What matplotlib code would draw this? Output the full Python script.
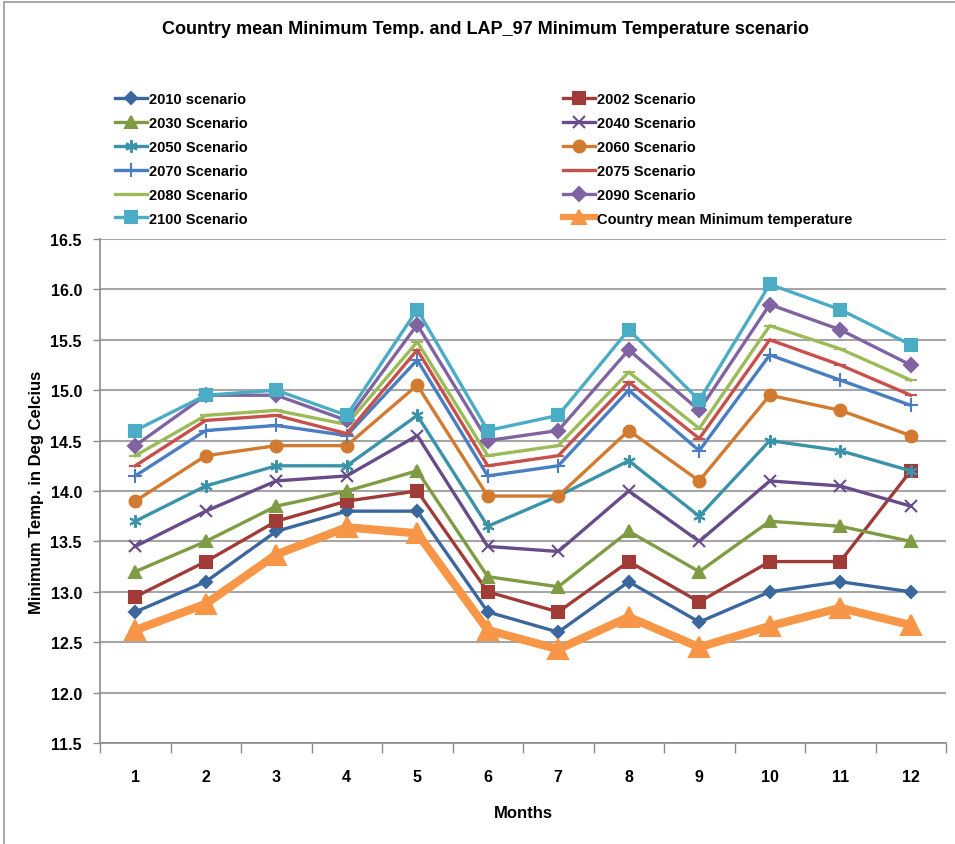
import matplotlib
matplotlib.use("Agg")
import matplotlib.pyplot as plt
from matplotlib.patches import Rectangle
from matplotlib.lines import Line2D

plt.rcParams['font.family'] = ['Liberation Sans', 'DejaVu Sans']
plt.rcParams['font.weight'] = 'bold'

months = [1, 2, 3, 4, 5, 6, 7, 8, 9, 10, 11, 12]

s2010 = [12.8, 13.1, 13.6, 13.8, 13.8, 12.8, 12.6, 13.1, 12.7, 13.0, 13.1, 13.0]
s2002 = [12.95, 13.3, 13.7, 13.9, 14.0, 13.0, 12.8, 13.3, 12.9, 13.3, 13.3, 14.2]
s2030 = [13.2, 13.5, 13.85, 14.0, 14.2, 13.15, 13.05, 13.6, 13.2, 13.7, 13.65, 13.5]
s2040 = [13.45, 13.8, 14.1, 14.15, 14.55, 13.45, 13.4, 14.0, 13.5, 14.1, 14.05, 13.85]
s2050 = [13.7, 14.05, 14.25, 14.25, 14.75, 13.65, 13.95, 14.3, 13.75, 14.5, 14.4, 14.2]
s2060 = [13.9, 14.35, 14.45, 14.45, 15.05, 13.95, 13.95, 14.6, 14.1, 14.95, 14.8, 14.55]
s2070 = [14.15, 14.6, 14.65, 14.55, 15.3, 14.15, 14.25, 15.0, 14.4, 15.35, 15.1, 14.85]
s2075 = [14.25, 14.7, 14.75, 14.57, 15.4, 14.25, 14.35, 15.08, 14.52, 15.5, 15.25, 14.95]
s2080 = [14.35, 14.75, 14.8, 14.66, 15.48, 14.35, 14.45, 15.18, 14.62, 15.64, 15.41, 15.1]
s2090 = [14.45, 14.95, 14.95, 14.7, 15.65, 14.5, 14.6, 15.4, 14.8, 15.85, 15.6, 15.25]
s2100 = [14.6, 14.95, 15.0, 14.75, 15.8, 14.6, 14.75, 15.6, 14.9, 16.05, 15.8, 15.45]
country = [12.62, 12.88, 13.37, 13.64, 13.58, 12.62, 12.43, 12.75, 12.45, 12.66, 12.84, 12.67]

labels = ['2010 scenario', '2002 Scenario', '2030 Scenario', '2040 Scenario',
          '2050 Scenario', '2060 Scenario', '2070 Scenario', '2075 Scenario',
          '2080 Scenario', '2090 Scenario', '2100 Scenario',
          'Country mean Minimum temperature']
series = [s2010, s2002, s2030, s2040, s2050, s2060, s2070, s2075, s2080,
          s2090, s2100, country]

# (color, marker, markersize, linewidth)
styles = [
    ('#3A679E', 'D', 6, 2.4),
    ('#A03B38', 's', 8.5, 2.4),
    ('#7F9C44', '^', 8, 2.4),
    ('#684C8A', 'x', 8, 2.4),
    ('#3A93A8', (6, 2, 0), 9, 2.4),
    ('#D27A30', 'o', 8.5, 2.4),
    ('#4A7EC2', '+', 10, 2.4),
    ('#C8504C', '_', 8, 2.4),
    ('#9BBB59', '_', 8, 2.4),
    ('#8064A2', 'D', 7, 2.4),
    ('#4BACC6', 's', 9, 2.4),
    ('#F79646', '^', 14, 6.0),
]

fig = plt.figure(figsize=(9.55, 8.45), dpi=100)
fig.patches.append(Rectangle((4 / 955, -0.01), 1.2, 1 - 3 / 845 + 0.01,
                             transform=fig.transFigure, fill=False,
                             edgecolor='#9A9A9A', linewidth=1.2))

ax = fig.add_axes([100 / 955, 1 - 744 / 845, 846 / 955, 504 / 845])

handles = []
for vals, lab, (c, m, ms, lw) in zip(series, labels, styles):
    ax.plot(months, vals, color=c, marker=m, markersize=ms, linewidth=lw,
            markeredgecolor=c, markerfacecolor=c, markeredgewidth=1.5,
            label=lab, zorder=3)
    # legend proxy: same style, a bit smaller for the thick series
    handles.append(Line2D([], [], color=c, marker=m, markersize=min(ms, 10),
                          linewidth=min(lw, 4.5), markeredgecolor=c,
                          markerfacecolor=c, markeredgewidth=1.5))

ax.set_xlim(0.5, 12.5)
ax.set_ylim(11.5, 16.5)
ax.set_yticks([11.5 + 0.5 * i for i in range(11)])
ax.set_yticklabels([f'{11.5 + 0.5 * i:.1f}' for i in range(11)], fontsize=11.5)
ax.set_xticks(months)
ax.set_xticklabels([str(m) for m in months], fontsize=11.5)
ax.set_xticks([0.5 + i for i in range(13)], minor=True)
ax.tick_params(axis='x', which='major', length=0, pad=19)
ax.tick_params(axis='x', which='minor', length=7, color='#8C8C8C', width=1)
ax.tick_params(axis='y', length=5, color='#8C8C8C', width=1, pad=8)
ax.grid(axis='y', color='#A6A6A6', linewidth=1.5, zorder=0)
ax.set_axisbelow(True)
for side in ['top', 'right']:
    ax.spines[side].set_visible(False)
for side in ['left', 'bottom']:
    ax.spines[side].set_color('#8C8C8C')
    ax.spines[side].set_linewidth(1.2)

ax.set_xlabel('Months', fontsize=12, fontweight='bold', labelpad=15)
ax.set_ylabel('Minimum Temp. in Deg Celcius', fontsize=12, fontweight='bold', labelpad=5)

fig.text(485 / 955, 1 - 30 / 845, 'Country mean Minimum Temp. and LAP_97 Minimum Temperature scenario',
         ha='center', va='center', fontsize=13, fontweight='bold')

leg_kw = dict(loc='upper left', frameon=False, fontsize=10.5, handlelength=2.2,
              handletextpad=0.1, labelspacing=0.68, borderaxespad=0, borderpad=0)
fig.legend(handles[0::2], labels[0::2], bbox_to_anchor=(115 / 955, 1 - 93 / 845), **leg_kw)
fig.legend(handles[1::2], labels[1::2], bbox_to_anchor=(563 / 955, 1 - 93 / 845), **leg_kw)

fig.savefig('out.png', dpi=100)
